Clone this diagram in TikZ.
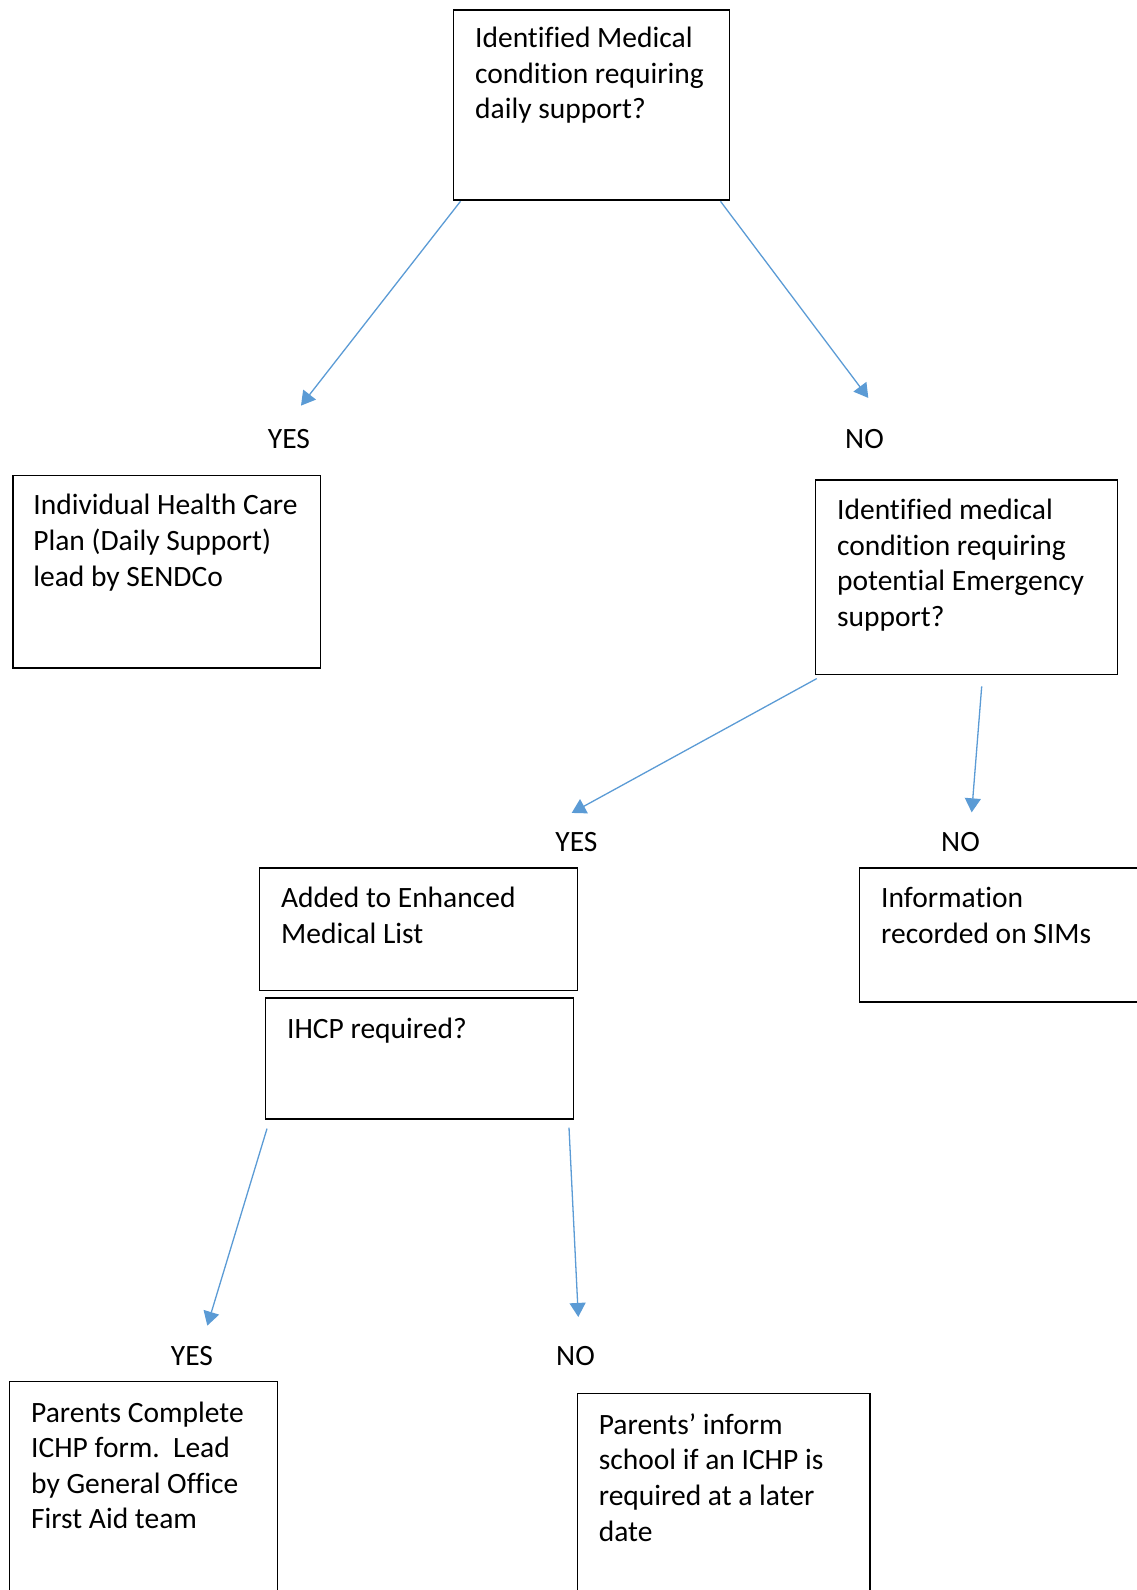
\documentclass[tikz,border=0pt]{standalone}
\usepackage{fontspec}
\setmainfont{Carlito}[Ligatures=NoCommon]
\usetikzlibrary{arrows.meta}

\definecolor{arrowblue}{HTML}{5B9BD5}

\tikzset{
    flowbox/.style={draw=black, line width=1.3pt, anchor=north west, align=flush left,
        inner xsep=21.5pt, inner ysep=0pt, font=\fontsize{29.5pt}{35.6pt}\selectfont},
    answer/.style={inner sep=0pt, font=\fontsize{29.5pt}{35.6pt}\selectfont},
    flowarrow/.style={draw=arrowblue, line width=1.3pt, -{Triangle[length=14pt,width=16pt]}}
}

\begin{document}
\begin{tikzpicture}[x=1pt, y=-1pt]
    \useasboundingbox (0,0) rectangle (1136,1590);

    % Boxes (x, y in pixels of the page, y downwards)
    \node[flowbox, text width=233pt, text height=37.5pt, text depth=152.5pt] (daily) at (453,9.3)
        {Identified Medical\\condition requiring\\daily support?};
    \node[flowbox, inner xsep=20.5pt, text width=266.3pt, text height=39.5pt, text depth=153.2pt] (plan) at (12.2,474.7)
        {Individual Health Care\\Plan (Daily Support)\\lead by SENDCo};
    \node[flowbox, text width=258.7pt, text height=39.5pt, text depth=155.2pt] (emergency) at (815,479.3)
        {Identified medical\\condition requiring\\potential Emergency\\support?};
    \node[flowbox, text width=274.7pt, text height=40pt, text depth=82.7pt] (enhanced) at (259,867.3)
        {Added to Enhanced\\Medical List};
    \node[flowbox, text width=264.7pt, text height=41pt, text depth=80pt] (ihcp) at (265,997.3)
        {IHCP required?};
    \node[flowbox, text width=257pt, text height=40pt, text depth=94pt] (sims) at (859,867.3)
        {Information\\recorded on SIMs};
    \node[flowbox, text width=224.7pt, text height=40.5pt, text depth=189.5pt] (form) at (9,1381)
        {Parents Complete\\ICHP form.\ \ Lead\\by General Office\\First Aid team};
    \node[flowbox, text width=249.6pt, text height=41pt, text depth=179pt] (later) at (576.7,1392.7)
        {Parents’ inform\\school if an ICHP is\\required at a later\\date};

    % Answers
    \node[answer] (yes1) at (289,439) {YES};
    \node[answer] (no1) at (864.5,439) {NO};
    \node[answer] (yes2) at (576.5,842.5) {YES};
    \node[answer] (no2) at (960.5,842.5) {NO};
    \node[answer] (yes3) at (192,1356) {YES};
    \node[answer] (no3) at (575.5,1356) {NO};

    % Arrows
    \draw[flowarrow] ([xshift=7.5pt,yshift=-0.7pt]daily.south west) -- ([xshift=12pt,yshift=23.5pt]yes1.north);
    \draw[flowarrow] ([xshift=-9.8pt,yshift=-0.7pt]daily.south east) -- ([xshift=3.8pt,yshift=31.2pt]no1.north);
    \draw[flowarrow] ([xshift=1.7pt,yshift=-3.3pt]emergency.south west) -- ([xshift=-4.8pt,yshift=19.7pt]yes2.north);
    \draw[flowarrow] ([xshift=15.2pt,yshift=-11pt]emergency.south) -- ([xshift=11.2pt,yshift=20.3pt]no2.north);
    \draw[flowarrow] ([xshift=2pt,yshift=-9pt]ihcp.south west) -- ([xshift=15.3pt,yshift=20.5pt]yes3.north);
    \draw[flowarrow] ([xshift=-5pt,yshift=-8pt]ihcp.south east) -- ([xshift=2.8pt,yshift=29.2pt]no3.north);
\end{tikzpicture}
\end{document}
